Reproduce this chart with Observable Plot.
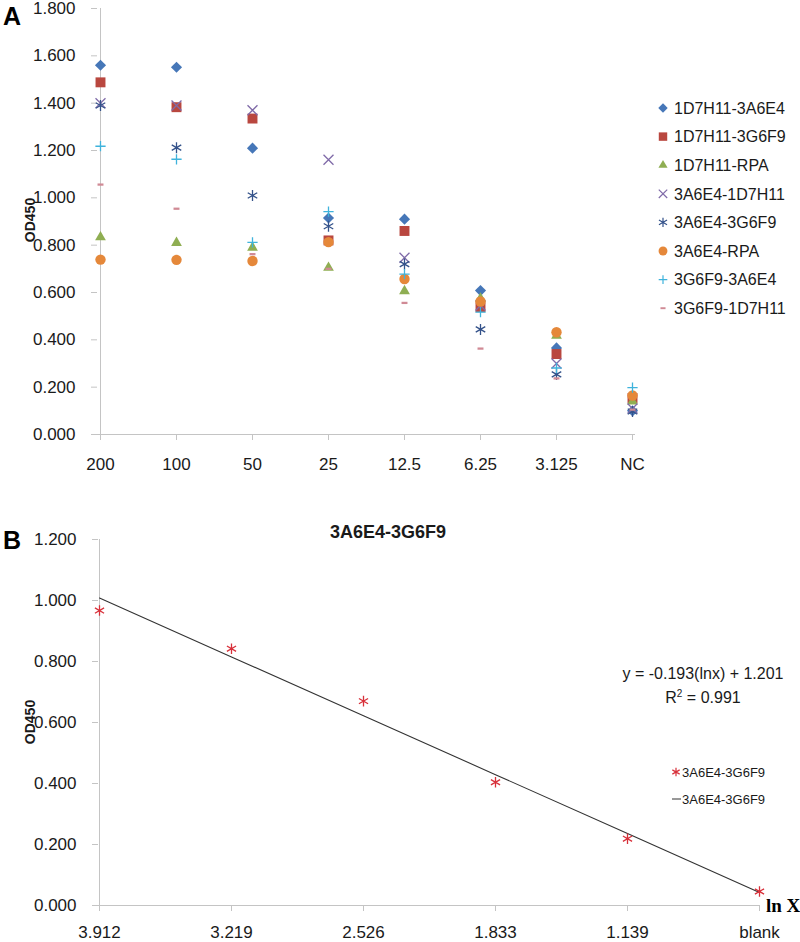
<!DOCTYPE html>
<html><head><meta charset="utf-8">
<script src="https://cdn.jsdelivr.net/npm/d3@7"></script>
<script src="https://cdn.jsdelivr.net/npm/@observablehq/plot@0.6"></script>
<style>
body{margin:0;background:#fff;font-family:"Liberation Sans",Arial,sans-serif;}
#wrap{position:relative;width:800px;height:942px;overflow:hidden;background:#fff;}
.abs{position:absolute;white-space:nowrap;color:#1a1a1a;line-height:1;}
.c{transform:translate(-50%,-50%);}
svg{display:block;}
</style></head><body><div id="wrap"></div>
<script>
// ---------- Panel A data ----------
const concentrations = ["200","100","50","25","12.5","6.25","3.125","NC"];
const seriesNames = ["1D7H11-3A6E4","1D7H11-3G6F9","1D7H11-RPA","3A6E4-1D7H11","3A6E4-3G6F9","3A6E4-RPA","3G6F9-3A6E4","3G6F9-1D7H11"];
const od1D7H11_3A6E4 = [1.560,1.552,1.210,0.915,0.910,0.608,0.366,0.100];
const od1D7H11_3G6F9 = [1.488,1.383,1.335,0.820,0.860,0.538,0.340,0.154];
const od1D7H11_RPA   = [0.834,0.810,0.790,0.705,0.606,0.575,0.418,0.140];
const od3A6E4_1D7H11 = [1.400,1.390,1.370,1.161,0.747,0.545,0.300,0.110];
const od3A6E4_3G6F9  = [1.390,1.212,1.010,0.880,0.720,0.444,0.254,0.097];
const od3A6E4_RPA    = [0.739,0.738,0.733,0.813,0.657,0.562,0.432,0.165];
const od3G6F9_3A6E4  = [1.218,1.163,0.812,0.942,0.678,0.517,0.281,0.198];
const od3G6F9_1D7H11 = [1.056,0.954,0.762,0.700,0.556,0.363,0.237,0.105];
const yTicksA = [0,0.2,0.4,0.6,0.8,1.0,1.2,1.4,1.6,1.8];

// ---------- Panel B data ----------
const lnLabels = ["3.912","3.219","2.526","1.833","1.139","blank"];
const od3A6E4_3G6F9_fit = [0.967,0.842,0.670,0.404,0.219,0.046];
const fitSlope = -0.193;
const fitIntercept = 1.201;
const yTicksB = [0,0.2,0.4,0.6,0.8,1.0,1.2];

// ---------- styles ----------
const dashSymbol = {draw(ctx, size){const w=Math.sqrt(size)*0.42,h=w*0.38;ctx.moveTo(-w,-h);ctx.lineTo(w,-h);ctx.lineTo(w,h);ctx.lineTo(-w,h);ctx.closePath();}};
const seriesValues = [od1D7H11_3A6E4,od1D7H11_3G6F9,od1D7H11_RPA,od3A6E4_1D7H11,od3A6E4_3G6F9,od3A6E4_RPA,od3G6F9_3A6E4,od3G6F9_1D7H11];
const styles = [
  {symbol:"diamond2", color:"#4677b8", filled:true,  r:5},
  {symbol:"square",   color:"#b9473f", filled:true,  r:5.6},
  {symbol:"triangle", color:"#8fae52", filled:true,  r:4},
  {symbol:"times",    color:"#7f6aa8", filled:false, r:4.6},
  {symbol:"asterisk", color:"#34528a", filled:false, r:5.2},
  {symbol:"circle",   color:"#e5883a", filled:true,  r:5.2},
  {symbol:"plus",     color:"#3fb3dc", filled:false, r:3.4},
  {symbol:dashSymbol, color:"#d08a95", filled:true,  r:4}
];
const d3Sym = {diamond2:d3.symbolDiamond2,square:d3.symbolSquare,triangle:d3.symbolTriangle,times:d3.symbolTimes,asterisk:d3.symbolAsterisk,circle:d3.symbolCircle,plus:d3.symbolPlus};

const axisColor = "#c4c4c4";
const textColor = "#1a1a1a";
const fmt = d3.format(".3f");
const wrap = document.getElementById("wrap");

// ---------- Panel A ----------
const tableA = seriesNames.flatMap((name,i)=>concentrations.map((c,j)=>({series:name,conc:c,od:seriesValues[i][j]})));
const dotMarks = seriesNames.map((name,i)=>{
  const s = styles[i];
  return Plot.dot(tableA.filter(d=>d.series===name),{x:"conc",y:"od",symbol:s.symbol,r:s.r,
    fill: s.filled ? s.color : "none", stroke: s.filled ? "none" : s.color, strokeWidth: 1.3});
});
const plotA = Plot.plot({
  width:800, height:490, marginLeft:97, marginRight:165, marginTop:8, marginBottom:56,
  style:{fontFamily:"'Liberation Sans',Arial,sans-serif",fontSize:"17px",color:textColor,background:"white",overflow:"visible"},
  x:{type:"point",domain:concentrations,padding:0},
  y:{domain:[0,1.8]},
  marks:[
    Plot.ruleY([0],{stroke:axisColor}),
    Plot.ruleX([concentrations[0]],{y1:0,y2:1.8,stroke:axisColor}),
    Plot.axisY({ticks:yTicksA,tickFormat:fmt,tickSize:6,tickPadding:16,stroke:axisColor,label:null}),
    Plot.axisX({tickSize:6,tickPadding:17,stroke:axisColor,label:null}),
    ...dotMarks
  ]
});
plotA.style.position="absolute"; plotA.style.left="0px"; plotA.style.top="0px";
wrap.appendChild(plotA);

// ---------- Panel B ----------
const tableB = lnLabels.map((l,i)=>({lbl:l,od:od3A6E4_3G6F9_fit[i],fit:fitSlope*(i+1)+fitIntercept}));
const plotB = Plot.plot({
  width:800, height:452, marginLeft:98, marginRight:41, marginTop:49, marginBottom:37,
  style:{fontFamily:"'Liberation Sans',Arial,sans-serif",fontSize:"17px",color:textColor,background:"white",overflow:"visible"},
  x:{type:"point",domain:lnLabels,padding:0},
  y:{domain:[0,1.2]},
  marks:[
    Plot.ruleY([0],{stroke:axisColor}),
    Plot.ruleX([lnLabels[0]],{y1:0,y2:1.2,stroke:axisColor}),
    Plot.axisY({ticks:yTicksB,tickFormat:fmt,tickSize:6,tickPadding:16,stroke:axisColor,label:null}),
    Plot.axisX({tickSize:6,tickPadding:14,stroke:axisColor,label:null}),
    Plot.line(tableB,{x:"lbl",y:"fit",stroke:"#333",strokeWidth:1.1}),
    Plot.dot(tableB,{x:"lbl",y:"od",symbol:"asterisk",r:5,fill:"none",stroke:"#d8303a",strokeWidth:1.3})
  ]
});
plotB.style.position="absolute"; plotB.style.left="0px"; plotB.style.top="490px";
wrap.appendChild(plotB);

// ---------- texts ----------
function addText(txt, css, cls){const d=document.createElement("div");d.className="abs"+(cls?" "+cls:"");d.textContent=txt;Object.assign(d.style,css);wrap.appendChild(d);return d;}
addText("A",{left:"3px",top:"4px",fontSize:"25px",fontWeight:"bold",color:"#000"});
addText("B",{left:"3px",top:"528px",fontSize:"25px",fontWeight:"bold",color:"#000"});
addText("OD450",{left:"30px",top:"220px",fontSize:"14px",fontWeight:"bold",transform:"translate(-50%,-50%) rotate(-90deg)"});
addText("OD450",{left:"30px",top:"722px",fontSize:"14px",fontWeight:"bold",transform:"translate(-50%,-50%) rotate(-90deg)"});
addText("3A6E4-3G6F9",{left:"388px",top:"532px",fontSize:"18px",fontWeight:"bold"},"c");
addText("y = -0.193(lnx) + 1.201",{left:"703px",top:"674px",fontSize:"16px"},"c");
const r2 = addText("",{left:"703px",top:"697px",fontSize:"16px"},"c");
r2.innerHTML = "R<sup style='font-size:10px;vertical-align:6px'>2</sup> = 0.991";
addText("ln X",{left:"766px",top:"905px",fontSize:"19px",fontWeight:"bold",fontFamily:"'Liberation Serif','Times New Roman',serif",transform:"translateY(-50%)",color:"#000"});

// ---------- legend A ----------
const legendRowsY = seriesNames.map((_,i)=>108+i*28.6);
const legSvg = d3.select(wrap).append("svg").attr("width",800).attr("height",942)
  .style("position","absolute").style("left","0px").style("top","0px").style("pointer-events","none");
seriesNames.forEach((name,i)=>{
  const s = styles[i];
  const symType = typeof s.symbol==="string" ? d3Sym[s.symbol] : s.symbol;
  legSvg.append("path").attr("transform",`translate(663,${legendRowsY[i]})`)
    .attr("d",d3.symbol(symType, Math.PI*(s.r*0.85)*(s.r*0.85))())
    .attr("fill",s.filled?s.color:"none").attr("stroke",s.filled?"none":s.color).attr("stroke-width",1.2);
  legSvg.append("text").attr("x",674).attr("y",legendRowsY[i]).attr("dy","0.36em")
    .attr("font-family","'Liberation Sans',Arial,sans-serif").attr("font-size",16).attr("fill",textColor).text(name);
});
// ---------- legend B ----------
legSvg.append("path").attr("transform","translate(676,772)").attr("d",d3.symbol(d3.symbolAsterisk,Math.PI*16)())
  .attr("fill","none").attr("stroke","#d8303a").attr("stroke-width",1.2);
legSvg.append("text").attr("x",682).attr("y",772).attr("dy","0.36em").attr("font-family","'Liberation Sans',Arial,sans-serif")
  .attr("font-size",13).attr("fill",textColor).text("3A6E4-3G6F9");
legSvg.append("line").attr("x1",672).attr("x2",681).attr("y1",799).attr("y2",799).attr("stroke","#333");
legSvg.append("text").attr("x",682).attr("y",799).attr("dy","0.36em").attr("font-family","'Liberation Sans',Arial,sans-serif")
  .attr("font-size",13).attr("fill",textColor).text("3A6E4-3G6F9");
</script></body></html>
